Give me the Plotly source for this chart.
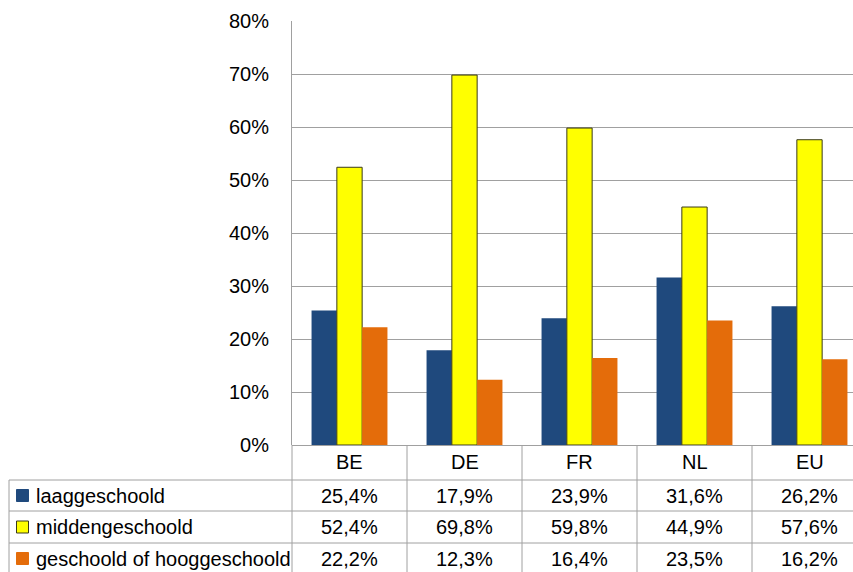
import plotly.graph_objects as go

categories = ["BE", "DE", "FR", "NL", "EU"]
series_names = ["laaggeschoold", "middengeschoold", "geschoold of hooggeschoold"]
laag = [25.4, 17.9, 23.9, 31.6, 26.2]
midden = [52.4, 69.8, 59.8, 44.9, 57.6]
hoog = [22.2, 12.3, 16.4, 23.5, 16.2]
y_ticks = [0, 10, 20, 30, 40, 50, 60, 70, 80]

series_values = [laag, midden, hoog]
colors = ["#1f497d", "#ffff00", "#e46c0a"]
line_colors = ["#1f497d", "#3a3a1a", "#e46c0a"]
line_widths = [0, 1, 0]

W, H = 853, 572
L, T, R, B = 292, 21, 853, 445  # plot area in pixels
FONT = "Liberation Sans, Arial, sans-serif"
GRID = "#a0a0a0"

def px(xp):
    return (xp - L) / (R - L)

def py(yp):
    return (B - yp) / (B - T)

# category slot width ~115px: show the x range so last slot is clipped at the right edge
slot = 115.0
xmax = -0.5 + (R - L) / slot

fig = go.Figure()
for name, vals, c, lc, lw in zip(series_names, series_values, colors, line_colors, line_widths):
    fig.add_trace(go.Bar(
        x=categories, y=[v / 100 for v in vals], name=name,
        marker=dict(color=c, line=dict(color=lc, width=lw)),
        showlegend=False,
    ))

shapes = []
line = dict(color=GRID, width=1)
# table horizontal lines
row_y = [480, 511, 543]
for yp in row_y:
    shapes.append(dict(type="line", xref="paper", yref="paper", x0=px(9), x1=1.02,
                       y0=py(yp), y1=py(yp), line=line))
# left edge of legend column
shapes.append(dict(type="line", xref="paper", yref="paper", x0=px(9), x1=px(9),
                   y0=py(480), y1=py(H + 5), line=line))
# left edge of value columns (continuation of y axis)
shapes.append(dict(type="line", xref="paper", yref="paper", x0=0, x1=0,
                   y0=py(B), y1=py(H + 5), line=line))
# column dividers at category boundaries
for i in range(len(categories) - 1):
    shapes.append(dict(type="line", xref="x", yref="paper", x0=i + 0.5, x1=i + 0.5,
                       y0=py(B), y1=py(H + 5), line=line))

annotations = []
# category labels in header row
for i, cat in enumerate(categories):
    annotations.append(dict(x=i, y=py(462), xref="x", yref="paper", text=cat,
                            showarrow=False, font=dict(size=20, color="#000", family=FONT),
                            xanchor="center", yanchor="middle"))
row_centers = [495.5, 527, 558.5]
for r, (name, vals, c, lc) in enumerate(zip(series_names, series_values, colors, line_colors)):
    yc = row_centers[r]
    for i, v in enumerate(vals):
        annotations.append(dict(x=i, y=py(yc), xref="x", yref="paper",
                                text=f"{v:.1f}%".replace(".", ","),
                                showarrow=False, font=dict(size=20, color="#000", family=FONT),
                                xanchor="center", yanchor="middle"))
    annotations.append(dict(x=px(34), y=py(yc), xref="paper", yref="paper", text=name,
                            showarrow=False, font=dict(size=20, color="#000", family=FONT),
                            xanchor="left", yanchor="middle"))
    shapes.append(dict(type="rect", xref="paper", yref="paper",
                       x0=px(16.5), x1=px(28.5), y0=py(yc - 6), y1=py(yc + 6),
                       fillcolor=c, line=dict(color=lc if r == 1 else c, width=1)))

fig.update_layout(
    width=W, height=H,
    margin=dict(l=L, r=W - R, t=T, b=H - B, pad=0),
    paper_bgcolor="white", plot_bgcolor="white",
    barmode="group", bargap=0.34, bargroupgap=0,
    font=dict(family=FONT, size=20, color="#000"),
    xaxis=dict(range=[-0.5, xmax], showticklabels=False, showgrid=False,
               zeroline=False, showline=False, ticks=""),
    yaxis=dict(range=[0, 0.8], tickvals=[t / 100 for t in y_ticks], tickformat=".0%",
               showgrid=True, gridcolor=GRID, gridwidth=1,
               showline=True, linecolor=GRID, linewidth=1,
               zeroline=True, zerolinecolor=GRID, zerolinewidth=1,
               ticks="", ticklabelstandoff=18,
               tickfont=dict(size=20, family=FONT, color="#000")),
    shapes=shapes, annotations=annotations,
)

fig.write_html("out.html", config={"displayModeBar": False},
               post_script="document.body.style.margin='0';document.body.style.overflow='hidden';")
